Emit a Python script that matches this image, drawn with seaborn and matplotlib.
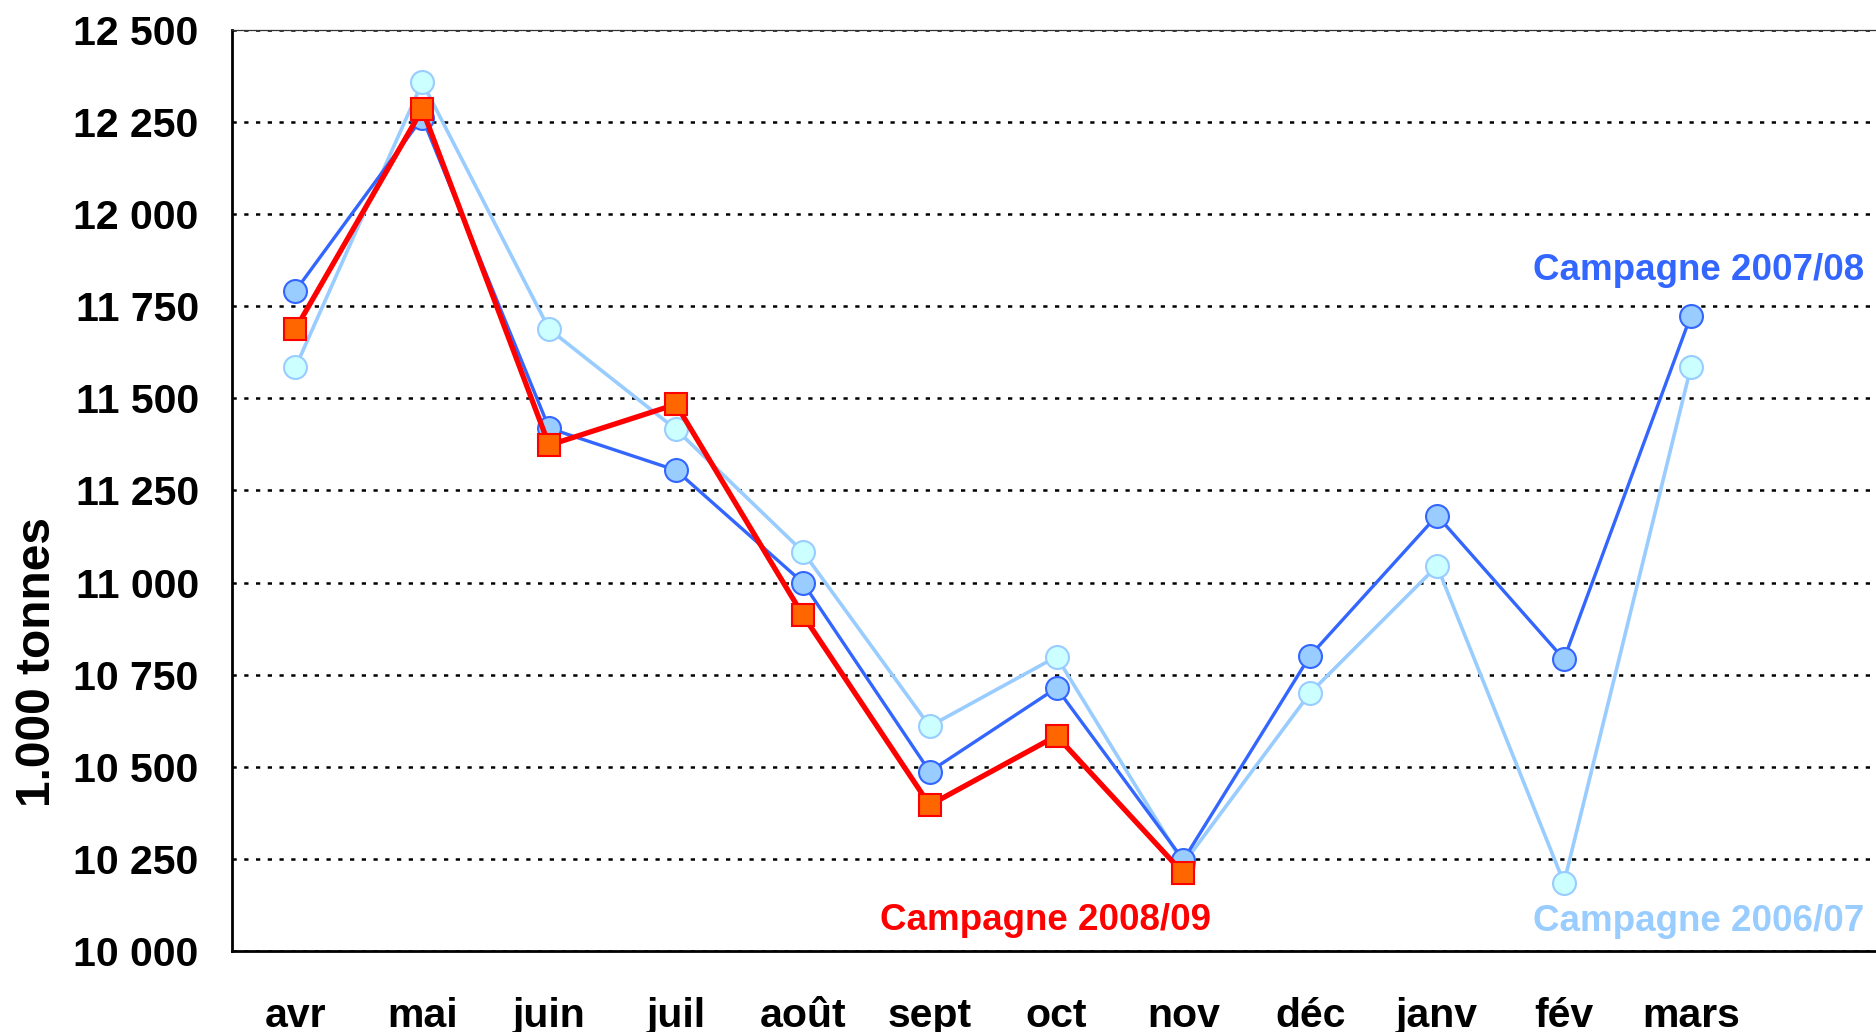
import numpy as np
import pandas as pd
import matplotlib
matplotlib.use("Agg")
import matplotlib.pyplot as plt
from matplotlib.ticker import FixedLocator, FuncFormatter
import seaborn as sns

# ---- data ----
months = ["avr", "mai", "juin", "juil", "août", "sept", "oct", "nov",
          "déc", "janv", "fév", "mars"]
camp_2006_07 = [11584, 12358, 11688, 11416, 11084, 10610, 10799, 10237,
                10701, 11045, 10185, 11584]
camp_2007_08 = [11792, 12262, 11419, 11305, 11000, 10487, 10714, 10247,
                10802, 11182, 10792, 11724]
camp_2008_09 = [11688, 12285, 11373, 11484, 10912, 10396, 10584, 10211]
y_ticks = list(range(10000, 12501, 250))
y_label = "1.000 tonnes"
lab_0607 = "Campagne 2006/07"
lab_0708 = "Campagne 2007/08"
lab_0809 = "Campagne 2008/09"

sns.set_theme(style="white")
plt.rcParams["font.family"] = ["Liberation Sans", "DejaVu Sans"]
plt.rcParams["font.weight"] = "bold"

fig = plt.figure(figsize=(18.76, 10.32), dpi=100)
ax = fig.add_axes([232 / 1876, 81 / 1032, 1644 / 1876, 921 / 1032])


def frame(vals):
    return pd.DataFrame({"x": np.arange(len(vals)), "y": vals})


sns.lineplot(data=frame(camp_2006_07), x="x", y="y", ax=ax, color="#99CCFF",
             linewidth=2.6, marker="o", markersize=16.5,
             markerfacecolor="#CCFFFF", markeredgecolor="#99CCFF",
             markeredgewidth=1.5, zorder=3)
sns.lineplot(data=frame(camp_2007_08), x="x", y="y", ax=ax, color="#3366FF",
             linewidth=2.4, marker="o", markersize=16.5,
             markerfacecolor="#99CCFF", markeredgecolor="#3366FF",
             markeredgewidth=1.5, zorder=4)
sns.lineplot(data=frame(camp_2008_09), x="x", y="y", ax=ax, color="#FF0000",
             linewidth=3.8, marker="s", markersize=15.5,
             markerfacecolor="#FF6600", markeredgecolor="#FF0000",
             markeredgewidth=1.5, zorder=5)

ax.set_xlim(-0.5, 12.46)
ax.set_ylim(10000, 12500)

# y axis
ax.yaxis.set_major_locator(FixedLocator(y_ticks))
ax.yaxis.set_major_formatter(FuncFormatter(lambda v, p: f"{int(v):,}".replace(",", " ")))
ax.tick_params(axis="y", which="major", direction="out", length=10, width=1.5,
               color="black", pad=14, labelsize=29.5, labelcolor="black")
for t in ax.get_yticklabels():
    t.set_fontweight("bold")

# x axis: ticks at boundaries, labels at centers
ax.set_xticks(np.arange(len(months) + 1) - 0.5)
ax.set_xticklabels([])
ax.set_xticks(np.arange(len(months)), minor=True)
ax.set_xticklabels(months, minor=True, fontsize=29.5, fontweight="bold")
ax.tick_params(axis="x", which="major", direction="out", length=9, width=1.5,
               color="black")
ax.tick_params(axis="x", which="minor", length=0, pad=33, labelcolor="black")

ax.set_xlabel("")
ax.set_ylabel("")

# grid
ax.yaxis.grid(True, color="black", linestyle=(0, (1.7, 3.0)), linewidth=1.8,
              zorder=1)
ax.xaxis.grid(False)
ax.set_axisbelow(True)

for side in ["left", "bottom"]:
    ax.spines[side].set_color("black")
    ax.spines[side].set_linewidth(2.0)
ax.spines["top"].set_color("#333333")
ax.spines["top"].set_linewidth(0.9)
ax.spines["right"].set_visible(False)

# annotations
ax.text(0.9927, 0.7394, lab_0708, transform=ax.transAxes, ha="right",
        va="center", fontsize=26.5, fontweight="bold", color="#3366FF")
ax.text(0.4948, 0.0326, lab_0809, transform=ax.transAxes, ha="center",
        va="center", fontsize=26.5, fontweight="bold", color="#FF0000")
ax.text(0.9927, 0.0315, lab_0607, transform=ax.transAxes, ha="right",
        va="center", fontsize=26.5, fontweight="bold", color="#99CCFF")

fig.text(37 / 1876, 1 - 662 / 1032, y_label, rotation=90, ha="center",
         va="center", fontsize=34.5, fontweight="bold", color="black")

fig.savefig("out.png", dpi=100)
